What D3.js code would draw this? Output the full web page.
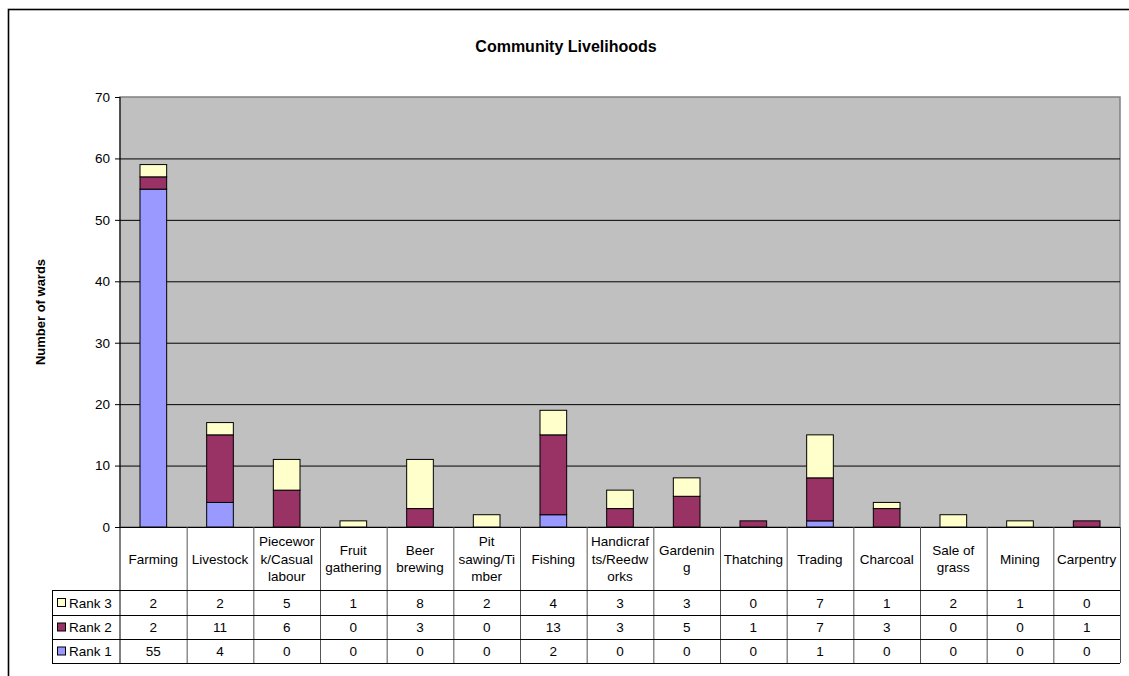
<!DOCTYPE html>
<html><head><meta charset="utf-8">
<script src="https://cdn.jsdelivr.net/npm/d3@7"></script>
<style>body{margin:0;background:#fff}svg{display:block;font-family:"Liberation Sans",Arial,sans-serif}</style>
</head><body><svg id="c" width="1129" height="676"></svg>
<script>
const categories = ["Farming","Livestock","Piecework/Casual labour","Fruit gathering","Beer brewing","Pit sawing/Timber","Fishing","Handicrafts/Reedworks","Gardening","Thatching","Trading","Charcoal","Sale of grass","Mining","Carpentry"];
const categoryLines = [["Farming"],["Livestock"],["Piecewor","k/Casual","labour"],["Fruit","gathering"],["Beer","brewing"],["Pit","sawing/Ti","mber"],["Fishing"],["Handicraf","ts/Reedw","orks"],["Gardenin","g"],["Thatching"],["Trading"],["Charcoal"],["Sale of","grass"],["Mining"],["Carpentry"]];
const rank1 = [55,4,0,0,0,0,2,0,0,0,1,0,0,0,0];
const rank2 = [2,11,6,0,3,0,13,3,5,1,7,3,0,0,1];
const rank3 = [2,2,5,1,8,2,4,3,3,0,7,1,2,1,0];
const seriesNames = ["Rank 1","Rank 2","Rank 3"];
const seriesColors = ["#9999FF","#993366","#FFFFCC"];
const yTicks = [0,10,20,30,40,50,60,70];
const title = "Community Livelihoods";
const yLabel = "Number of wards";

const svg = d3.select("#c");
const L=120, R=1120, T=97, B=527;
const rowY = [527, 590, 615, 639, 663];
const legendLeft = 52;

svg.append("rect").attr("x",8.5).attr("y",9.5).attr("width",1140).attr("height",700)
  .attr("fill","none").attr("stroke","#000").attr("stroke-width",1.6);

svg.append("text").attr("x",566).attr("y",52).attr("text-anchor","middle")
  .attr("font-weight","bold").attr("font-size",16).text(title);

const x = d3.scaleBand().domain(categories).range([L,R]).paddingInner(0.6).paddingOuter(0.3);
const xCol = d3.scaleBand().domain(categories).range([L,R]).padding(0);
const y = d3.scaleLinear().domain([0,70]).range([B,T]);

svg.append("rect").attr("x",L).attr("y",T).attr("width",R-L).attr("height",B-T)
  .attr("fill","#C0C0C0").attr("stroke","#808080").attr("stroke-width",1.5);

svg.append("g").selectAll("line").data(yTicks.filter(d=>d>0&&d<70)).join("line")
  .attr("x1",L).attr("x2",R).attr("y1",d=>y(d)+0.5).attr("y2",d=>y(d)+0.5)
  .attr("stroke","#000").attr("stroke-width",1);

const table = categories.map((c,i)=>({cat:c,"Rank 1":rank1[i],"Rank 2":rank2[i],"Rank 3":rank3[i]}));
const stack = d3.stack().keys(seriesNames)(table);
svg.append("g").selectAll("g").data(stack).join("g")
  .attr("fill",(d,i)=>seriesColors[i])
  .selectAll("rect").data(d=>d.filter(p=>p[1]-p[0]>0)).join("rect")
  .attr("x",d=>x(d.data.cat)).attr("width",x.bandwidth())
  .attr("y",d=>y(d[1])).attr("height",d=>y(d[0])-y(d[1]))
  .attr("stroke","#000").attr("stroke-width",1);

const yAxis = d3.axisLeft(y).tickValues(yTicks).tickSize(5).tickPadding(5);
const ga = svg.append("g").attr("transform",`translate(${L},0)`).call(yAxis);
ga.select(".domain").remove();
ga.selectAll("text").attr("font-size",13.5).attr("font-family","Liberation Sans, Arial, sans-serif").attr("fill","#000");
ga.selectAll("line").attr("stroke","#000");
svg.append("line").attr("x1",L).attr("x2",L).attr("y1",T).attr("y2",rowY[4]).attr("stroke","#000").attr("stroke-width",1);

svg.append("text").attr("transform",`translate(45,${(T+B)/2}) rotate(-90)`)
  .attr("text-anchor","middle").attr("font-weight","bold").attr("font-size",13).text(yLabel);

svg.append("line").attr("x1",L).attr("x2",R).attr("y1",B+0.5).attr("y2",B+0.5).attr("stroke","#000").attr("stroke-width",1.2);

const bounds = categories.map(c=>xCol(c)).concat([R]);
svg.append("g").selectAll("line").data(bounds.slice(1)).join("line")
  .attr("x1",d=>d+0.5).attr("x2",d=>d+0.5).attr("y1",B).attr("y2",rowY[4])
  .attr("stroke","#555").attr("stroke-width",1);
svg.append("line").attr("x1",legendLeft+0.5).attr("x2",legendLeft+0.5).attr("y1",rowY[1]).attr("y2",rowY[4]).attr("stroke","#000");
svg.append("g").selectAll("line").data(rowY.slice(1)).join("line")
  .attr("x1",legendLeft).attr("x2",R).attr("y1",d=>d+0.5).attr("y2",d=>d+0.5)
  .attr("stroke","#000").attr("stroke-width",1);

const lh = 17.5;
const hdr = svg.append("g").attr("font-size",13.5).attr("text-anchor","middle");
categories.forEach((c,i)=>{
  const lines = categoryLines[i];
  const cx = xCol(c)+xCol.bandwidth()/2;
  const cy = (rowY[0]+rowY[1])/2;
  const t = hdr.append("text").attr("x",cx);
  lines.forEach((ln,j)=>{
    t.append("tspan").attr("x",cx).attr("y",cy + (j-(lines.length-1)/2)*lh + 5).text(ln);
  });
});

const rowSeries = [[rank3,2],[rank2,1],[rank1,0]];
rowSeries.forEach(([vals,si],r)=>{
  const cy = (rowY[r+1]+rowY[r+2])/2;
  const g = svg.append("g").attr("font-size",13.5).attr("text-anchor","middle");
  g.selectAll("text").data(vals).join("text")
    .attr("x",(d,i)=>xCol(categories[i])+xCol.bandwidth()/2).attr("y",cy+5).text(d=>d);
  svg.append("rect").attr("x",57.5).attr("y",cy-4).attr("width",8).attr("height",8)
    .attr("fill",seriesColors[si]).attr("stroke","#000").attr("stroke-width",1);
  svg.append("text").attr("x",69).attr("y",cy+5).attr("font-size",13.5).text(seriesNames[si]);
});
</script></body></html>
